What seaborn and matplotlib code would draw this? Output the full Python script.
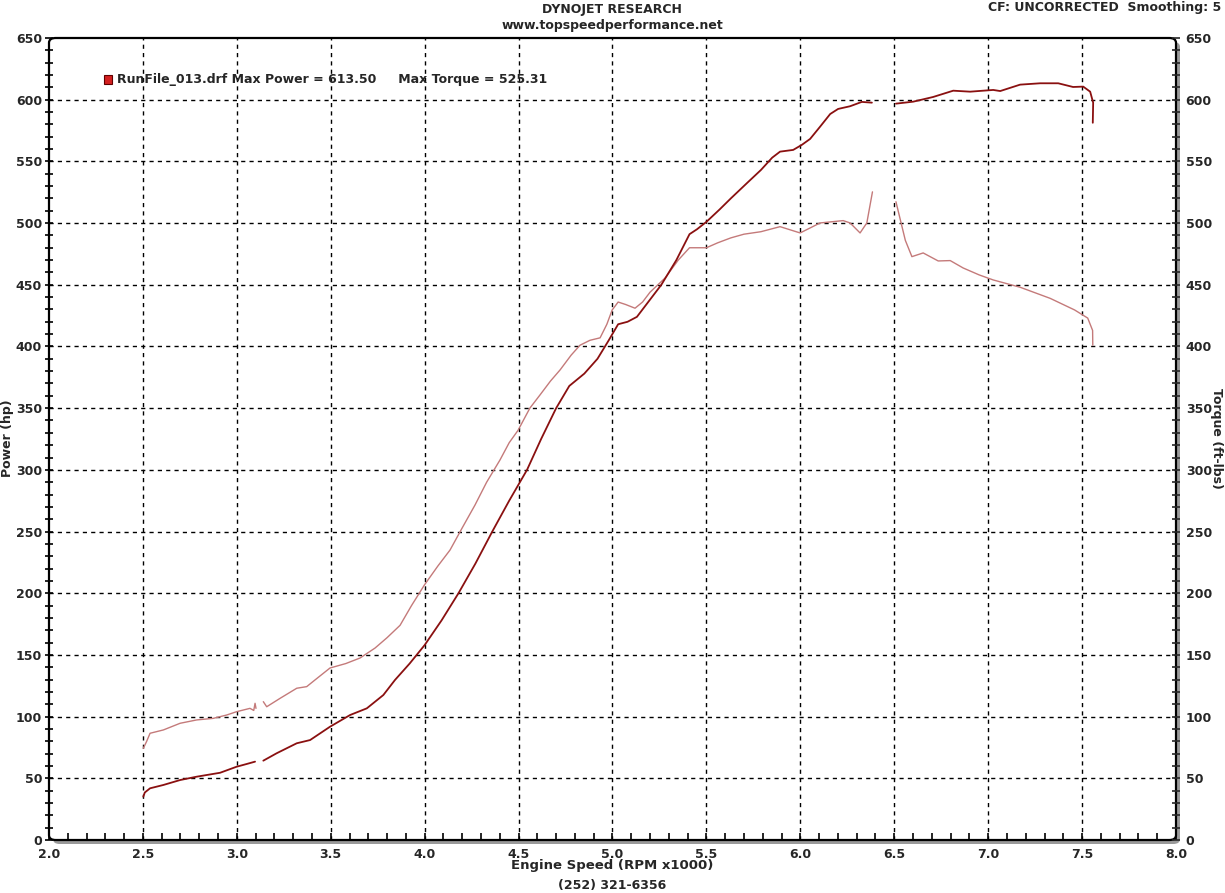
import numpy as np
import pandas as pd
import matplotlib
matplotlib.use("Agg")
import matplotlib.pyplot as plt
import matplotlib.transforms as mtransforms
from matplotlib.patches import FancyBboxPatch, Rectangle
import seaborn as sns

# ---------------- data ----------------
power_seg1_rpm = [2.502, 2.510, 2.538, 2.609, 2.698, 2.786, 2.911, 2.999, 3.050, 3.097]
power_seg1_hp = [35.1, 38.5, 41.9, 44.6, 48.6, 51.3, 54.5, 59.4, 61.5, 63.5]
power_seg2_rpm = [3.141, 3.212, 3.319, 3.390, 3.496, 3.603, 3.692, 3.780, 3.842, 3.92,
                  4.00, 4.09, 4.18, 4.27, 4.36, 4.45, 4.545, 4.62, 4.70, 4.77,
                  4.85, 4.92, 4.98, 5.03, 5.08, 5.13, 5.20, 5.26, 5.34, 5.41,
                  5.45, 5.50, 5.57, 5.63, 5.72, 5.79, 5.85, 5.892, 5.962, 6.008,
                  6.052, 6.105, 6.159, 6.201, 6.265, 6.327, 6.381]
power_seg2_hp = [64.3, 70.3, 78.4, 81.0, 91.8, 101.3, 106.7, 117.5, 129.7, 143,
                 158, 178, 200, 224, 250, 275, 300, 325, 350, 368,
                 378, 390, 405, 418, 420, 424, 438, 450, 470, 491,
                 495, 501, 511, 520, 533, 543, 553, 557.9, 559.3, 563.4,
                 568.2, 578.1, 588.4, 592.5, 594.7, 598.2, 597.6]
power_seg3_rpm = [6.509, 6.601, 6.707, 6.814, 6.904, 7.027, 7.064, 7.170, 7.277, 7.373,
                  7.452, 7.506, 7.543, 7.559, 7.557]
power_seg3_hp = [596.8, 598.4, 602.2, 607.3, 606.5, 607.9, 607.0, 612.2, 613.3, 613.3,
                 610.3, 610.6, 606.5, 597.6, 581.3]

torque_seg1_rpm = [2.502, 2.520, 2.538, 2.609, 2.698, 2.786, 2.875, 2.946, 2.999, 3.070,
                   3.090, 3.097, 3.102]
torque_seg1_ftlb = [74.3, 80, 86.5, 89.2, 94.6, 97.3, 98.6, 101.3, 104, 106.7,
                    105, 110.8, 106.7]
torque_seg2_rpm = [3.141, 3.159, 3.230, 3.319, 3.372, 3.416, 3.496, 3.580, 3.656, 3.736,
                   3.80, 3.869, 3.93, 4.00, 4.07, 4.135, 4.20, 4.268, 4.33, 4.401,
                   4.45, 4.497, 4.56, 4.614, 4.67, 4.721, 4.78, 4.827, 4.88, 4.934,
                   4.97, 4.998, 5.03, 5.07, 5.12, 5.16, 5.20, 5.28, 5.35, 5.41,
                   5.50, 5.56, 5.63, 5.70, 5.79, 5.892, 5.999, 6.105, 6.228, 6.265,
                   6.318, 6.354, 6.384]
torque_seg2_ftlb = [112.1, 108, 114.8, 123, 124.3, 129.7, 139.4, 143, 147.5, 155.6,
                    164, 174, 190, 207, 222, 235, 253, 271.5, 290, 308,
                    322, 332, 350, 360.7, 372, 381, 393, 401, 405, 407,
                    418, 429.5, 436, 434, 431, 436, 444, 455.5, 470, 480,
                    480, 484, 488, 491, 493, 497.1, 492, 500.1, 502, 500.1,
                    492, 500.1, 525.3]
torque_seg3_rpm = [6.509, 6.559, 6.594, 6.654, 6.734, 6.798, 6.867, 6.952, 7.027, 7.17,
                   7.33, 7.46, 7.53, 7.556, 7.557]
torque_seg3_ftlb = [517.3, 486, 472.8, 475.8, 469.3, 469.6, 463.6, 458, 453.9, 448,
                    439, 429.6, 423, 413, 401]

x_ticks = [2.0, 2.5, 3.0, 3.5, 4.0, 4.5, 5.0, 5.5, 6.0, 6.5, 7.0, 7.5, 8.0]
y_ticks = list(range(0, 651, 50))


def build(segs):
    frames = []
    for i, (x, y) in enumerate(segs):
        frames.append(pd.DataFrame({"rpm": x, "val": y, "seg": i}))
    return pd.concat(frames, ignore_index=True)


power_df = build([(power_seg1_rpm, power_seg1_hp), (power_seg2_rpm, power_seg2_hp),
                  (power_seg3_rpm, power_seg3_hp)])
torque_df = build([(torque_seg1_rpm, torque_seg1_ftlb), (torque_seg2_rpm, torque_seg2_ftlb),
                   (torque_seg3_rpm, torque_seg3_ftlb)])

# ---------------- figure ----------------
sns.set_style("white")
plt.rcParams["font.family"] = ["DejaVu Sans"]

W, H = 1225, 893
fig = plt.figure(figsize=(W / 100, H / 100), dpi=100)
left, right, bottom, top = 49 / W, 1176 / W, (H - 840) / H, (H - 38) / H
ax = fig.add_axes([left, bottom, right - left, top - bottom])
ax.set_zorder(1)

ax.set_xlim(2.0, 8.0)
ax.set_ylim(0, 650)

# grid
for xv in x_ticks[1:-1]:
    ax.axvline(xv, color="black", lw=1.0, ls=(0, (3, 3)), zorder=1)
for yv in y_ticks[1:-1]:
    ax.axhline(yv, color="black", lw=1.0, ls=(0, (3, 3)), zorder=1)

sns.lineplot(data=torque_df, x="rpm", y="val", units="seg", estimator=None, sort=False,
             color="#c47a7a", lw=1.0, ax=ax, zorder=3)
sns.lineplot(data=power_df, x="rpm", y="val", units="seg", estimator=None, sort=False,
             color="#8a1010", lw=1.3, ax=ax, zorder=4)

ax.set_xlabel("")
ax.set_ylabel("")
for s in ax.spines.values():
    s.set_visible(False)

# frame with rounded corners and grey shadow
offset = mtransforms.ScaledTranslation(4 / 100, -4 / 100, fig.dpi_scale_trans)
shadow = FancyBboxPatch((0, 0), 1, 1, boxstyle="round,pad=0,rounding_size=0.006",
                        transform=ax.transAxes + offset, facecolor="#9a9a9a",
                        edgecolor="none", clip_on=False, zorder=0.5)
fig.add_artist(shadow)
ax.patch.set_visible(False)
white = FancyBboxPatch((0, 0), 1, 1, boxstyle="round,pad=0,rounding_size=0.006",
                       transform=ax.transAxes, facecolor="white", edgecolor="none",
                       clip_on=False, zorder=0.6)
fig.add_artist(white)
frame = FancyBboxPatch((0, 0), 1, 1, boxstyle="round,pad=0,rounding_size=0.006",
                       transform=ax.transAxes, facecolor="none", edgecolor="black",
                       lw=1.6, clip_on=False, zorder=10)
ax.add_patch(frame)

# ticks
ax.set_xticks(x_ticks)
ax.set_xticklabels([f"{v:.1f}" for v in x_ticks])
ax.set_xticks(np.arange(2.0, 8.001, 0.1), minor=True)
ax.set_yticks(y_ticks)
ax.set_yticklabels([str(v) for v in y_ticks])
ax.set_yticks(np.arange(0, 651, 10), minor=True)
ax.tick_params(axis="x", which="both", direction="in", length=5, width=1.2, color="black",
               labelsize=9, pad=6, bottom=True, top=False)
ax.tick_params(axis="y", which="both", direction="inout", length=6, width=1.2, color="black",
               labelsize=9, pad=2, left=True, right=False)
for lab in ax.get_xticklabels() + ax.get_yticklabels():
    lab.set_fontweight("bold")

ax2 = ax.twinx()
ax2.set_ylim(0, 650)
ax2.set_yticks(y_ticks)
ax2.set_yticklabels([str(v) for v in y_ticks])
ax2.set_yticks(np.arange(0, 651, 10), minor=True)
ax2.tick_params(axis="y", which="both", direction="inout", length=6, width=1.2,
                labelsize=9, pad=4)
for lab in ax2.get_yticklabels():
    lab.set_fontweight("bold")
for s in ax2.spines.values():
    s.set_visible(False)
ax2.patch.set_visible(False)
ax2.grid(False)

# texts
fig.text(612 / W, 1 - 10 / H, "DYNOJET RESEARCH", ha="center", va="center",
         fontsize=9, fontweight="bold")
fig.text(612 / W, 1 - 25 / H, "www.topspeedperformance.net", ha="center", va="center",
         fontsize=9, fontweight="bold")
fig.text(1221 / W, 1 - 7 / H, "CF: UNCORRECTED  Smoothing: 5", ha="right", va="center",
         fontsize=9, fontweight="bold")
fig.text(612 / W, 1 - 866 / H, "Engine Speed (RPM x1000)", ha="center", va="center",
         fontsize=9.5, fontweight="bold")
fig.text(612 / W, 1 - 886 / H, "(252) 321-6356", ha="center", va="center",
         fontsize=9, fontweight="bold")
fig.text(8 / W, 1 - 438 / H, "Power (hp)", ha="center", va="center", rotation=90,
         fontsize=9, fontweight="bold")
fig.text(1217 / W, 1 - 438 / H, "Torque (ft-lbs)", ha="center", va="center", rotation=-90,
         fontsize=9, fontweight="bold")

# legend entry
fig.add_artist(Rectangle((104 / W, 1 - 84 / H), 8 / W, 9 / H, facecolor="#d42020",
                         edgecolor="#600000", lw=0.8, zorder=12))
fig.text(117 / W, 1 - 80 / H,
         "RunFile_013.drf Max Power = 613.50     Max Torque = 525.31",
         ha="left", va="center", fontsize=9, fontweight="bold", zorder=12)

fig.savefig("out.png", dpi=100)
